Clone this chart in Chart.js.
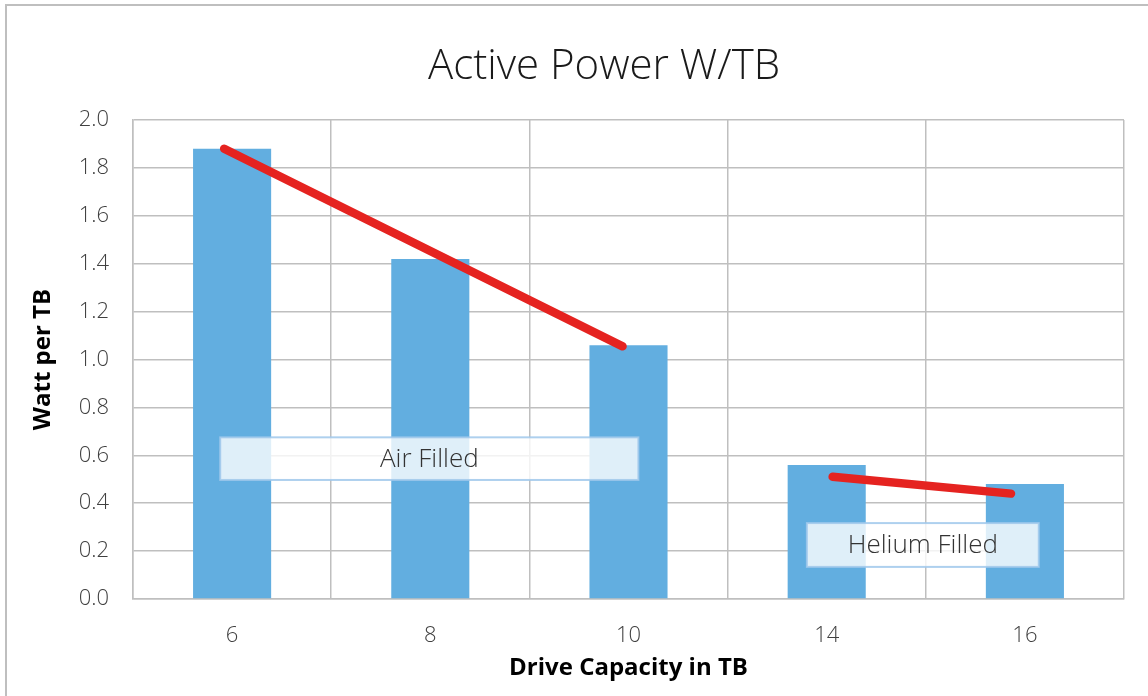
<!DOCTYPE html>
<html>
<head>
<meta charset="utf-8">
<script src="https://cdn.jsdelivr.net/npm/chart.js@4.4.1/dist/chart.umd.min.js"></script>
<style>
  html, body { margin: 0; padding: 0; background: #fff; }
  #wrap { width: 1148px; height: 696px; position: relative; }
</style>
</head>
<body>
<div id="wrap"><canvas id="powerChart" width="1148" height="696"></canvas></div>
<script>
// Data
const capacities = ['6', '8', '10', '14', '16'];
const wattPerTB = [1.88, 1.42, 1.06, 0.56, 0.48];
const yTicks = [0, 0.2, 0.4, 0.6, 0.8, 1.0, 1.2, 1.4, 1.6, 1.8, 2.0];

// Trend lines (x in category index units)
const airTrend = [{ x: -0.04, y: 1.88 }, { x: 1.97, y: 1.055 }];
const heliumTrend = [{ x: 3.03, y: 0.51 }, { x: 3.93, y: 0.44 }];

// Text boxes (data coords)
const groupLabels = [
  { text: 'Air Filled', x0: -0.06, x1: 2.05, y0: 0.675, y1: 0.497 },
  { text: 'Helium Filled', x0: 2.9, x1: 4.07, y0: 0.317, y1: 0.134 }
];

const chartTitle = 'Active Power W/TB';
const FONT = '"Open Sans", "Noto Sans", sans-serif';

// frame around the chart + title
const framePlugin = {
  id: 'frame',
  beforeDraw(chart) {
    const ctx = chart.ctx;
    ctx.save();
    ctx.strokeStyle = '#bfbfbf';
    ctx.lineWidth = 2;
    ctx.beginPath();
    ctx.moveTo(6, 700);
    ctx.lineTo(6, 5);
    ctx.lineTo(1150, 5);
    ctx.stroke();
    ctx.fillStyle = '#1a1a1a';
    ctx.font = '300 42px ' + FONT;
    ctx.textAlign = 'center';
    ctx.textBaseline = 'middle';
    ctx.fillText(chartTitle, 604, 67);
    ctx.restore();
  }
};

// label boxes
const boxPlugin = {
  id: 'groupBoxes',
  afterDatasetsDraw(chart) {
    const ctx = chart.ctx;
    const xs = chart.scales.xLine, ys = chart.scales.y;
    ctx.save();
    groupLabels.forEach(b => {
      const l = xs.getPixelForValue(b.x0), r = xs.getPixelForValue(b.x1);
      const t = ys.getPixelForValue(b.y0), bt = ys.getPixelForValue(b.y1);
      ctx.fillStyle = 'rgba(255,255,255,0.8)';
      ctx.fillRect(l, t, r - l, bt - t);
      ctx.strokeStyle = 'rgba(160,200,235,0.85)';
      ctx.lineWidth = 2;
      ctx.strokeRect(l, t, r - l, bt - t);
      ctx.fillStyle = '#333333';
      ctx.font = '300 26px ' + FONT;
      ctx.textAlign = 'center';
      ctx.textBaseline = 'middle';
      ctx.fillText(b.text, (l + r) / 2, (t + bt) / 2 + 1);
    });
    ctx.restore();
  }
};

new Chart(document.getElementById('powerChart'), {
  data: {
    labels: capacities,
    datasets: [
      {
        type: 'bar',
        label: 'Watt per TB',
        data: wattPerTB,
        backgroundColor: '#62aee0',
        grouped: false,
        barPercentage: 1,
        categoryPercentage: 0.394,
        order: 2
      },
      {
        type: 'line',
        label: 'Air trend',
        data: airTrend,
        xAxisID: 'xLine',
        borderColor: '#e52320',
        borderWidth: 8.5,
        borderCapStyle: 'round',
        pointRadius: 0,
        order: 1
      },
      {
        type: 'line',
        label: 'Helium trend',
        data: heliumTrend,
        xAxisID: 'xLine',
        borderColor: '#e52320',
        borderWidth: 8.5,
        borderCapStyle: 'round',
        pointRadius: 0,
        order: 1
      }
    ]
  },
  options: {
    responsive: false,
    animation: false,
    devicePixelRatio: 1,
    layout: { padding: { left: 10, right: 24, top: 120, bottom: 0 } },
    plugins: {
      legend: { display: false },
      tooltip: { enabled: false },
      title: { display: false }
    },
    scales: {
      x: {
        grid: { offset: true, color: '#bfbfbf', lineWidth: 1.5, drawTicks: false },
        border: { color: '#bfbfbf', width: 1.5 },
        ticks: { color: '#404040', font: { family: FONT, size: 22, weight: '300' }, padding: 24 },
        title: {
          display: true,
          text: 'Drive Capacity in TB',
          color: '#000',
          font: { family: FONT, size: 24, weight: 'bold' },
          padding: { top: 0, bottom: 13 }
        },
        afterFit: s => { s.height = 97; }
      },
      xLine: {
        type: 'linear',
        display: false,
        min: -0.5,
        max: 4.5
      },
      y: {
        min: 0,
        max: 2,
        afterBuildTicks: s => { s.ticks = yTicks.map(v => ({ value: v })); },
        grid: { color: '#bfbfbf', lineWidth: 1.5, drawTicks: false },
        border: { color: '#bfbfbf', width: 1.5 },
        ticks: {
          color: '#404040',
          font: { family: FONT, size: 22, weight: '300' },
          padding: 24,
          callback: v => v.toFixed(1)
        },
        title: {
          display: true,
          text: 'Watt per TB',
          color: '#000',
          font: { family: FONT, size: 24, weight: 'bold' },
          padding: { top: 19, bottom: 0 }
        },
        afterFit: s => { s.width = 123; }
      }
    }
  },
  plugins: [framePlugin, boxPlugin]
});
</script>
</body>
</html>
